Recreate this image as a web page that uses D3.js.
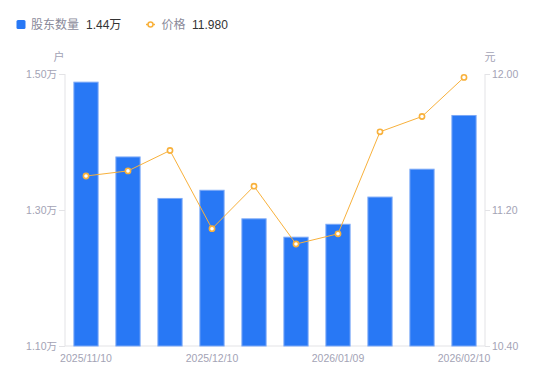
<!DOCTYPE html>
<html><head><meta charset="utf-8">
<script src="https://cdn.jsdelivr.net/npm/d3@7"></script>
<style>body{margin:0;background:#fff;font-family:"Noto Sans CJK SC","Noto Sans",sans-serif;}</style>
</head><body><svg id="c" width="550" height="381"></svg>
<script>
const dates = ["2025/11/10","2025/11/20","2025/11/28","2025/12/10","2025/12/19","2025/12/31","2026/01/09","2026/01/20","2026/01/30","2026/02/10"];
const holders = [1.488,1.378,1.317,1.329,1.287,1.260,1.279,1.319,1.360,1.439];
const prices = [11.40,11.43,11.55,11.09,11.34,11.00,11.06,11.66,11.75,11.98];
const leftTicks = [1.10,1.30,1.50];
const rightTicks = [10.40,11.20,12.00];
const shownDates = ["2025/11/10","2025/12/10","2026/01/09","2026/02/10"];

const svg = d3.select("#c");
const L=65,R=485,T=74,B=346;
const x = d3.scaleBand().domain(dates).range([L,R]).paddingInner(0.4).paddingOuter(0.2);
const yL = d3.scaleLinear().domain([1.10,1.50]).range([B,T]);
const yR = d3.scaleLinear().domain([10.40,12.00]).range([B,T]);
const gray="#a3a3b5", axisC="#e3e3e6";
const numFont="'Liberation Sans', Arial, sans-serif";

// axes
const gl = svg.append("g").attr("transform",`translate(${L},0)`)
  .call(d3.axisLeft(yL).tickValues(leftTicks).tickSize(6).tickPadding(2).tickFormat(d=>d3.format(".2f")(d)+"万"));
const gr = svg.append("g").attr("transform",`translate(${R},0)`)
  .call(d3.axisRight(yR).tickValues(rightTicks).tickSize(5).tickPadding(2).tickFormat(d3.format(".2f")));
[gl,gr].forEach(g=>{
  g.select(".domain").attr("stroke",axisC).attr("d",`M0,${T}V${B}`);
  g.selectAll(".tick line").attr("stroke",axisC);
  g.selectAll("text").attr("fill",gray).style("font-size","10.5px").style("font-family",numFont+", 'Noto Sans CJK SC'");
});
const gb = svg.append("g").attr("transform",`translate(0,${B})`)
  .call(d3.axisBottom(x).tickValues(shownDates).tickSize(0).tickPadding(8.5));
gb.select(".domain").attr("stroke",axisC).attr("d",`M${L},0H${R}`);
gb.selectAll("text").attr("fill",gray).style("font-size","10.5px").style("font-family",numFont);

// units
svg.append("text").attr("x",59).attr("y",61).attr("text-anchor","middle").attr("fill",gray).style("font-size","11px").text("户");
svg.append("text").attr("x",490).attr("y",61).attr("text-anchor","middle").attr("fill",gray).style("font-size","11px").text("元");

// bars
svg.append("g").selectAll("rect").data(holders).join("rect")
  .attr("x",(d,i)=>x(dates[i])+0.5).attr("width",x.bandwidth()-1)
  .attr("y",d=>yL(d)).attr("height",d=>B-yL(d))
  .attr("fill","#2878f5").attr("stroke","#7aa8f7").attr("stroke-width",1);

// line
const orange="#f8b13c";
const line = d3.line().x((d,i)=>x(dates[i])+x.bandwidth()/2).y(d=>yR(d));
svg.append("path").datum(prices).attr("d",line).attr("fill","none").attr("stroke",orange).attr("stroke-width",1);
svg.append("g").selectAll("circle").data(prices).join("circle")
  .attr("cx",(d,i)=>x(dates[i])+x.bandwidth()/2).attr("cy",d=>yR(d)).attr("r",2.6)
  .attr("fill","#fff").attr("stroke",orange).attr("stroke-width",1.6);

// legend
const lg = svg.append("g").style("font-size","12px");
lg.append("rect").attr("x",16.5).attr("y",20).attr("width",9).attr("height",9).attr("rx",1.5).attr("fill","#2878f5");
lg.append("text").attr("x",31).attr("y",29).attr("fill","#8a8a9a").text("股东数量");
lg.append("text").attr("x",86).attr("y",29).attr("fill","#333").style("font-family",numFont+", 'Noto Sans CJK SC'").text("1.44万");
lg.append("line").attr("x1",146).attr("x2",155).attr("y1",24.5).attr("y2",24.5).attr("stroke",orange).attr("stroke-width",1.5);
lg.append("circle").attr("cx",150.5).attr("cy",24.5).attr("r",2.5).attr("fill","#fff").attr("stroke",orange).attr("stroke-width",1.5);
lg.append("text").attr("x",161.5).attr("y",29).attr("fill","#8a8a9a").text("价格");
lg.append("text").attr("x",192).attr("y",29).attr("fill","#333").style("font-family",numFont).text("11.980");
</script></body></html>
